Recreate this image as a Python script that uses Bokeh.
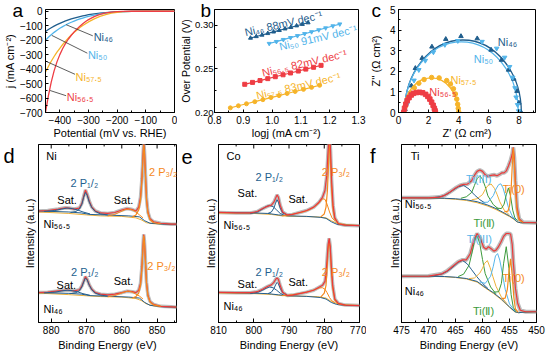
from bokeh.plotting import figure
from bokeh.models import (Range1d, Label, Title, LinearAxis, SingleIntervalTicker, FixedTicker,
                          NumeralTickFormatter)
from bokeh.layouts import row, column
from bokeh.embed import file_html
from bokeh.resources import INLINE

FONT = "Liberation Sans"
C46, C50, C575, C565 = "#1f5d8c", "#52b4ea", "#f6b42a", "#ee3d44"
XB, XO, XY, XG, XL, XR, GRAY = "#245f8f", "#f5891d", "#eeb03a", "#3c9a3c", "#55b5ea", "#ec3a3a", "#bcbcbc"

# ---------------- panel a: LSV ----------------
E = [-450, -440, -430, -420, -410, -400, -390, -380, -370, -360, -350, -340, -330, -320, -310, -300,
     -280, -260, -240, -220, -200, -180, -150, -100, -50, 0]
j46 = [-140, -126, -114, -103, -93, -84, -75, -67, -60, -53, -47, -42, -37, -32, -28, -24,
       -18, -13, -9, -6, -3, -2, -1, 0, 0, 0]
j50 = [-200, -180, -162, -146, -131, -118, -106, -95, -85, -76, -68, -60, -53, -47, -41, -36,
       -27, -19, -13, -8, -5, -2, -1, 0, 0, 0]
j575 = [-420, -382, -346, -313, -283, -256, -230, -207, -185, -164, -146, -129, -113, -99, -86, -74,
        -53, -36, -23, -13, -7, -3, -1, 0, 0, 0]
j565 = [-700, -585, -490, -412, -350, -300, -258, -222, -192, -166, -143, -122, -103, -86, -71, -58,
        -37, -22, -12, -6, -3, -1, 0, 0, 0, 0]
a_lead_x0 = [-378, -428, -445, -434]
a_lead_y0 = [-93, -167, -349, -548]
a_lead_x1 = [-285, -304, -347, -378]
a_lead_y1 = [-170, -290, -436, -584]

# ---------------- panel b: Tafel ----------------
b46_x = [0.925, 0.945, 0.965, 0.985, 1.005, 1.025, 1.045, 1.065, 1.085, 1.105, 1.125]
b46_y = [0.2853, 0.2871, 0.2888, 0.2906, 0.2924, 0.2941, 0.2959, 0.2976, 0.2994, 0.3011, 0.3029]
b50_x = [0.990, 1.015, 1.039, 1.064, 1.088, 1.113, 1.137, 1.162, 1.186, 1.211, 1.235]
b50_y = [0.2790, 0.2812, 0.2835, 0.2857, 0.2879, 0.2902, 0.2924, 0.2946, 0.2968, 0.2991, 0.3013]
b565_x = [0.905, 0.932, 0.958, 0.985, 1.011, 1.038, 1.064, 1.091, 1.117, 1.144, 1.170]
b565_y = [0.2323, 0.2345, 0.2366, 0.2388, 0.2410, 0.2432, 0.2453, 0.2475, 0.2497, 0.2518, 0.2540]
b575_x = [0.855, 0.883, 0.911, 0.940, 0.968, 0.996, 1.024, 1.052, 1.080, 1.109, 1.137, 1.165]
b575_y = [0.2053, 0.2077, 0.2100, 0.2124, 0.2147, 0.2171, 0.2194, 0.2218, 0.2241, 0.2265, 0.2288, 0.2312]

# ---------------- panel c: Nyquist ----------------
c46_x = [0.43, 0.67, 0.86, 1.12, 1.57, 2.22, 3.14, 4.15, 5.23, 6.15, 6.84, 7.31, 7.66, 7.87, 8.0, 8.13]
c46_y = [0.15, 0.74, 1.30, 2.15, 2.64, 3.19, 3.56, 3.70, 3.59, 3.04, 2.55, 2.07, 1.63, 1.04, 0.47, 0.03]
c50_x = [0.39, 0.6, 0.77, 1.03, 1.35, 1.78, 2.32, 3.08, 3.94, 5.55, 6.52, 7.05, 7.38, 7.59, 7.74, 7.81, 7.91, 7.98]
c50_y = [0.07, 0.44, 0.96, 1.56, 2.07, 2.52, 2.93, 3.29, 3.48, 3.44, 3.11, 2.67, 2.22, 1.70, 1.19, 0.74, 0.37, 0.07]
c575_x = [0.35, 0.45, 0.6, 0.8, 1.05, 1.35, 1.7, 2.2, 2.7, 3.2, 3.45, 3.65, 3.78, 3.87, 3.93, 3.97, 4.0]
c575_y = [0.02, 0.3, 0.65, 0.95, 1.2, 1.42, 1.6, 1.7, 1.68, 1.55, 1.38, 1.15, 0.9, 0.65, 0.4, 0.2, 0.02]
c565_x = [0.35, 0.4, 0.48, 0.58, 0.7, 0.85, 1.0, 1.2, 1.4, 1.6, 1.8, 1.95, 2.08, 2.2, 2.3, 2.38, 2.43, 2.45]
c565_y = [0.0, 0.2, 0.4, 0.58, 0.72, 0.85, 0.93, 0.97, 0.98, 0.96, 0.88, 0.78, 0.65, 0.5, 0.35, 0.2, 0.08, 0.0]
fit_cx = [4.28, 4.18, 2.17, 1.40]
fit_w = [7.76, 7.56, 3.64, 2.10]
fit_h = [7.04, 6.86, 3.36, 1.94]
fit_col = [C46, C50, C575, C565]

# ---------------- panel d: Ni 2p ----------------
d_env_x = [883.6, 881, 878, 876, 875, 873.5, 872, 871.3, 870.8, 870.3, 869.8, 869.2, 868.5, 867.5, 866, 864, 862, 860,
           858.5, 857, 856, 855.2, 854.7, 854.3, 854.0, 853.8, 853.6, 853.3, 853.0, 852.6, 852, 851, 849, 846, 844.5]
dt_env_y = [114, 114.5, 116, 117.3, 117, 116, 117, 122, 129, 135.5, 131, 124, 118, 114, 112, 111.5, 112.5, 115,
            116.5, 115.5, 114, 118, 128, 147, 170, 184, 177, 152, 127, 113, 106, 103, 101.5, 100.5, 100.5]
db_env_y = [30.7, 31, 32.3, 33, 33, 32.3, 33.5, 37.5, 42, 47, 44, 38.5, 34, 30.5, 29, 28.3, 29, 30.5,
            32, 31.5, 30.5, 33, 40, 57, 78, 90, 84, 63, 41, 28, 21.5, 18.5, 16.5, 16, 15.7]
d_bgb_x = [883.6, 875, 871.5, 869, 865, 858, 855, 853.5, 852, 848, 844.5]
dt_bgb_y = [114, 113, 112, 110.5, 110, 109, 108, 104, 101.5, 100.5, 100.5]
db_bgb_y = [30.5, 29.8, 29, 27.5, 27, 26, 25, 20.5, 17.5, 16, 15.7]
d_bgo_x = [883.6, 875, 870, 866, 860, 856, 854.5, 853, 851, 844.5]
dt_bgo_y = [113, 111.5, 110, 109, 108.5, 107, 105, 102, 101, 100.5]
db_bgo_y = [30, 28.5, 27.3, 26.5, 26, 24.5, 22.5, 19, 17, 15.7]
d_sat1_x = [882, 879, 877, 875.5, 874, 872.5, 871, 869]
dt_sat1_y = [113.6, 114.5, 116, 117, 116.5, 115, 113, 111]
db_sat1_y = [30.3, 31, 32.3, 33, 32.5, 31.3, 29.5, 27.8]
d_p12_x = [874.5, 873, 872, 871.3, 870.8, 870.3, 869.8, 869.2, 868.5, 867.5, 866, 864]
dt_p12_y = [112.5, 113.5, 116, 121, 128, 133, 130, 123, 117.5, 113.5, 111, 110]
db_p12_y = [29.5, 30.5, 32.5, 36.5, 41.5, 45.5, 43.5, 38, 33.5, 30, 28, 27]
d_sat2_x = [864, 862, 860.5, 859, 858, 857, 856, 855, 854]
dt_sat2_y = [109, 110.5, 113, 115.5, 116, 115, 113, 110, 107]
db_sat2_y = [26.3, 27.5, 29.5, 31.5, 32, 31, 29, 27, 24]
d_p32_x = [857, 856, 855.2, 854.7, 854.3, 854.0, 853.8, 853.6, 853.3, 853.0, 852.6, 852, 851, 849]
dt_p32_y = [108, 110, 115, 125, 145, 168, 182, 175, 150, 125, 112, 105, 102, 101]
db_p32_y = [25, 26.5, 30, 38, 55, 76, 89, 83, 62, 40, 27, 21, 18, 16.5]
d_top_major = [880, 870, 860, 850]
d_top_minor = [875, 865, 855, 845]

# ---------------- panel e: Co 2p ----------------
et_env_x = [810, 805, 801, 799, 797.5, 796, 795, 794.3, 793.8, 793.4, 793, 792.5, 791.8, 790.5, 789, 787, 785, 783,
            781.5, 780.5, 779.8, 779.3, 779, 778.7, 778.5, 778.2, 777.9, 777.5, 777, 776, 774, 770]
et_env_y = [112.5, 112, 112, 113.5, 116.5, 119, 120, 123, 127, 130.5, 128, 120, 113, 110, 110.5, 112.5, 114.5, 118,
            123, 128, 135, 150, 170, 188, 195, 175, 145, 120, 107, 101, 99.5, 99]
eb_env_x = [810, 805, 801, 799, 797.5, 796, 795, 794.3, 793.8, 793.4, 793, 792.5, 791.8, 790.5, 789, 787, 785, 783,
            781.5, 780.5, 779.8, 779.5, 779.2, 778.9, 778.6, 778.3, 778, 777.6, 777, 776, 774, 770]
eb_env_y = [30.7, 30.5, 30.5, 31.5, 34, 37, 38.5, 41, 44, 45.7, 44, 38, 31, 27.5, 28, 29.5, 31, 33,
            36, 38, 42, 50, 65, 80, 86, 78, 58, 38, 24, 19.5, 17.8, 17.3]
e_bgb_x = [810, 800, 796, 793, 790, 785, 781, 779.5, 778, 776.5, 774, 770]
et_bgb_y = [112.5, 112, 111.5, 110, 109, 108.5, 107.5, 106.5, 103, 100.5, 99.5, 99]
eb_bgb_y = [30.7, 30, 29.5, 28.3, 27.3, 26.7, 25.5, 24, 20.5, 18.5, 17.5, 17.3]
e_bgo_x = [810, 800, 795, 792, 788, 782, 779.5, 778, 776, 770]
et_bgo_y = [112, 111.5, 110.5, 109, 108.5, 108, 107, 104, 101, 99]
eb_bgo_y = [30.3, 29.5, 28.7, 27.5, 27, 26.5, 25, 21.5, 18.8, 17.3]
e_c1_x = [801, 799, 797.5, 796.5, 795.5, 794.5, 793.5, 792.5, 791.5]
et_c1_y = [111.5, 113, 116, 118.5, 119.7, 118.5, 115, 111.5, 110]
eb_c1_y = [29.7, 30.8, 33, 35, 36.3, 35.5, 33, 30, 28]
e_c2_x = [796, 795, 794.3, 793.8, 793.4, 793.0, 792.5, 791.8, 790.5]
et_c2_y = [111.5, 113, 117, 122, 125.5, 123, 117, 112, 110]
eb_c2_y = [29.5, 31, 34.5, 38.5, 41, 39.5, 35, 30.5, 28]
e_sh_x = [792, 790, 788, 786, 784, 782.5, 781.3, 780.5, 779.8, 779.2, 778.5, 777.8, 777]
et_sh_y = [109, 110, 111.5, 113, 115.5, 119, 123, 126.5, 126, 121, 113, 107, 104]
eb_sh_y = [27.5, 28, 29, 30.3, 32, 34, 35.5, 35.5, 34, 30.5, 25.5, 22, 20.5]
et_p32_x = [781, 780, 779.5, 779.1, 778.8, 778.5, 778.2, 777.9, 777.5, 777, 776, 774]
et_p32_y = [108, 111, 118, 135, 160, 190, 165, 135, 115, 106, 101, 99.5]
eb_p32_x = [781, 780, 779.5, 779.2, 778.9, 778.6, 778.3, 778.0, 777.6, 777, 776, 774]
eb_p32_y = [26, 30, 38, 55, 75, 84, 75, 55, 35, 23, 19, 17.7]
e_top_major = [810, 800, 790, 780, 770]
e_top_minor = [805, 795, 785, 775]

# ---------------- panel f: Ti 2p ----------------
ft_env_x = [475, 470, 468, 467, 466, 465, 464, 463.5, 462.8, 462, 461.5, 461, 460.5, 460, 459.5, 459, 458.4, 457.8,
            457.3, 456.8, 456.4, 456, 455.6, 455.2, 454.8, 454.5, 454.3, 454.1, 453.9, 453.6, 453.2, 452.5, 450]
ft_env_y = [127.5, 127.5, 128.2, 130, 133.5, 137.5, 140.5, 141.2, 141.5, 145, 150.5, 154.5, 156, 154.5, 151, 149.5,
            150.5, 151, 150, 151.5, 153, 153, 155, 160, 166, 172, 179, 168, 145, 118, 106, 102.5, 102]
fb_env_x = [475, 470, 467.5, 466.5, 465.5, 464.5, 463.7, 463, 462.3, 461.6, 461.0, 460.4, 459.8, 459.3, 458.9, 458.4,
            457.9, 457.5, 457.1, 456.6, 456.1, 455.6, 455.2, 454.8, 454.5, 454.3, 453.9, 453.5, 453.0, 452, 450]
fb_env_y = [47.3, 47.5, 49.8, 53, 57.5, 62, 64, 64, 70, 84, 91, 86, 77, 75, 77.5, 75.5,
            73, 74, 77, 82, 88, 91, 91, 90.5, 80, 62, 35, 20, 12.5, 11, 11]
f_bg_x = [475, 470, 467, 465, 463, 461, 459, 457.5, 456, 455, 454.2, 453.6, 453, 450]
ft_bg1_y = [127.5, 127.3, 127, 126.5, 125.5, 123.5, 120, 116.5, 112, 109, 106, 103, 102, 102]
ft_bg2_y = [127.5, 127.2, 126.7, 126, 124.8, 122.5, 119, 115.5, 111.2, 108.3, 105.5, 102.8, 102, 102]
fb_bg_x = [475, 470, 467, 465, 463, 461, 459.5, 458, 456.5, 455, 454, 453.3, 452.5, 450]
fb_bg1_y = [47.3, 47.3, 47, 46.3, 45, 42, 36, 30.5, 24, 16, 11, 10, 10.5, 11]
fb_bg2_y = [47.3, 47.2, 46.8, 46, 44.5, 41.3, 35.3, 29.8, 23.3, 15.5, 10.8, 10, 10.5, 11]
ft_blue_x = [469, 467.5, 466.5, 465.5, 464.5, 463.5, 462.5, 461.5, 460.5, 459.5]
ft_blue_y = [127.7, 129, 131.4, 135.1, 138.7, 140.2, 136.5, 130.5, 125.6, 122]
ft_grn_x = [464, 463, 462, 461.5, 461, 460.5, 460, 459.5, 459, 458, 457]
ft_grn_y = [127, 128.5, 133, 140, 147, 150, 146.5, 139, 129.5, 120.5, 116]
ft_or_x = [462, 461, 460, 459.5, 459, 458.4, 457.8, 457.3, 456.8, 456, 455]
ft_or_y = [125.5, 126.5, 130.8, 136, 140, 141.6, 137.2, 131, 123.5, 115, 110]
ft_lb_x = [460, 459, 458, 457.5, 457, 456.6, 456.2, 455.7, 455.2, 454.5, 453.8]
ft_lb_y = [122.8, 123, 129.7, 136.5, 141, 141.8, 137.6, 128, 117.6, 109, 104.5]
ft_g2_x = [457.5, 456.5, 456, 455.6, 455.2, 454.8, 454.4, 454, 453.5]
ft_g2_y = [117, 116.5, 121, 130.5, 137.6, 129, 114.8, 107, 104]
ft_o2_x = [456, 455.3, 455, 454.7, 454.5, 454.3, 454.1, 453.9, 453.6, 453.2, 452.5]
ft_o2_y = [113, 113.8, 119, 136, 159.3, 178.5, 160.8, 135, 113.5, 104.3, 102.5]
fb_blue_x = [469, 467.5, 466.5, 465.5, 464.5, 463.7, 462.8, 462, 461, 460, 459]
fb_blue_y = [47.7, 49.6, 52.4, 56.5, 61.5, 63.5, 59.8, 53.9, 46.5, 40, 34.8]
fb_grn_x = [464.5, 463.5, 462.5, 462, 461.5, 461, 460.5, 460, 459.5, 458.5, 457.5]
fb_grn_y = [47, 49.4, 58.4, 69.9, 83, 89, 80.5, 64.5, 50, 36.3, 29.3]
fb_or_x = [462.5, 461.5, 460.5, 460, 459.6, 459.1, 458.6, 458.1, 457.5, 456.5, 455.5]
fb_or_y = [44.9, 45.5, 50.5, 55.5, 60.5, 63.3, 56.3, 47.3, 37, 26, 19.5]
fb_lb_x = [460.5, 459.5, 458.5, 458, 457.6, 457.2, 456.8, 456.3, 455.8, 455, 454]
fb_lb_y = [41.5, 40, 47.3, 57.5, 68, 70.5, 63.8, 49.5, 34, 19, 11.5]
fb_g2_x = [458, 457, 456.5, 456.1, 455.6, 455.1, 454.7, 454.3, 453.8]
fb_g2_y = [31, 31.5, 40, 60, 77.5, 55, 28.5, 15.5, 11]
fb_o2_x = [456.5, 455.8, 455.4, 455.1, 454.8, 454.5, 454.2, 453.9, 453.4]
fb_o2_y = [24.5, 25, 33.8, 52, 65, 48.5, 26, 13.8, 10.5]
f_top_major = [475, 470, 465, 460, 455, 450]
f_top_minor = [472.5, 467.5, 462.5, 457.5, 452.5]


def mk(w, h, xr, yr, bl, br, bt, bb):
    p = figure(width=w, height=h, x_range=Range1d(*xr), y_range=Range1d(*yr),
               output_backend="svg", toolbar_location=None,
               min_border_left=bl, min_border_right=br, min_border_top=bt, min_border_bottom=bb)
    p.grid.visible = False
    p.outline_line_color = "black"
    p.outline_line_alpha = 1
    p.outline_line_width = 1
    p.background_fill_color = "white"
    p.border_fill_color = "white"
    for ax in p.axis:
        ax.major_tick_in = 3
        ax.major_tick_out = 0
        ax.minor_tick_in = 2
        ax.minor_tick_out = 0
        ax.major_label_text_font = FONT
        ax.major_label_text_font_size = "10px"
        ax.major_label_text_color = "black"
        ax.axis_label_text_font = FONT
        ax.axis_label_text_font_size = "11px"
        ax.axis_label_text_font_style = "normal"
        ax.axis_label_text_color = "black"
        ax.major_label_standoff = 3
        ax.axis_label_standoff = 2
        ax.axis_line_color = "black"
        ax.major_tick_line_color = "black"
        ax.minor_tick_line_color = "black"
    return p


def lab(p, x, y, s, color="black", size="11px", align="left", base="middle", angle=0, units="data"):
    p.add_layout(Label(x=x, y=y, text=s, text_color=color, text_font=FONT, text_font_size=size,
                       text_align=align, text_baseline=base, angle=angle, angle_units="deg",
                       x_units=units, y_units=units))


def top_letter(p, s, offset):
    # panel letter drawn in the top border, pulled down beside the frame's top-left corner
    p.add_layout(Title(text=s, align="left", offset=offset, standoff=-23, vertical_align="bottom",
                       text_font=FONT, text_font_size="19px", text_font_style="normal",
                       text_color="black"), "above")


def side_letter(p, s, yv, standoff):
    # panel letter drawn in the left border, as the only label of a bare axis
    ax = LinearAxis(ticker=FixedTicker(ticks=[yv]), major_label_overrides={yv: s},
                    major_label_text_font=FONT, major_label_text_font_size="20px",
                    major_label_text_color="black", major_label_standoff=standoff,
                    major_tick_line_color=None, minor_tick_line_color=None, axis_line_color=None)
    p.add_layout(ax, "left")


TOPB = 9

# ---------- a ----------
pa = mk(177, 141, (-450, 0), (-700, 12), 37, 3, TOPB, 27)
pa.xaxis.ticker = SingleIntervalTicker(interval=100, num_minor_ticks=2)
pa.yaxis.ticker = SingleIntervalTicker(interval=100, num_minor_ticks=2)
pa.xaxis.axis_label = "Potential (mV vs. RHE)"
pa.yaxis.axis_label = "j (mA cm⁻²)"
pa.yaxis.axis_label_standoff = 1
pa.xaxis.axis_label_standoff = 0
for jj, cc in [(j46, C46), (j50, C50), (j575, C575), (j565, C565)]:
    pa.line(E, jj, line_color=cc, line_width=1.3)
pa.segment(x0=a_lead_x0, y0=a_lead_y0, x1=a_lead_x1, y1=a_lead_y1, line_color="#333333", line_width=0.8)
lab(pa, -282, -175, "Ni₄₆", C46)
lab(pa, -302, -305, "Ni₅₀", C50)
lab(pa, -345, -452, "Ni₅₇.₅", C575)
lab(pa, -376, -596, "Ni₅₆.₅", C565)
top_letter(pa, "a", -33)

# ---------- b ----------
pb = mk(189, 141, (0.8, 1.3), (0.2, 0.318), 30, 8, TOPB, 27)
pb.xaxis.ticker = SingleIntervalTicker(interval=0.1, num_minor_ticks=2)
pb.yaxis.ticker = SingleIntervalTicker(interval=0.05, num_minor_ticks=2)
pb.xaxis.formatter = NumeralTickFormatter(format="0.0")
pb.yaxis.formatter = NumeralTickFormatter(format="0.00")
pb.xaxis.axis_label = "logj (mA cm⁻²)"
pb.xaxis.axis_label_standoff = 0
pb.yaxis.axis_label = "Over Potential (V)"
pb.yaxis.axis_label_standoff = 0
pb.yaxis.major_label_standoff = 1
pb.yaxis.major_label_text_font_size = "9.5px"
pb.yaxis.axis_label_text_font_size = "10.5px"
for xx, yy, cc, mm in [(b46_x, b46_y, C46, "triangle"), (b50_x, b50_y, C50, "inverted_triangle"),
                       (b565_x, b565_y, C565, "square"), (b575_x, b575_y, C575, "circle")]:
    pb.line(xx, yy, line_color=cc, line_width=1.2)
    pb.scatter(xx, yy, marker=mm, size=4, fill_color=cc, line_color=cc)
lab(pb, 0.905, 0.2917, "Ni₄₆ 88mV dec⁻¹", C46, base="alphabetic", angle=13)
lab(pb, 1.025, 0.2755, "Ni₅₀ 91mV dec⁻¹", C50, base="alphabetic", angle=13)
lab(pb, 0.965, 0.2455, "Ni₅₆.₅ 82mV dec⁻¹", C565, base="alphabetic", angle=13)
lab(pb, 0.945, 0.2193, "Ni₅₇.₅ 83mV dec⁻¹", C575, base="alphabetic", angle=13)
top_letter(pb, "b", -14)

# ---------- c ----------
pc = mk(180, 141, (0, 9.1), (0, 5), 29, 11, TOPB, 27)
pc.xaxis.ticker = SingleIntervalTicker(interval=2, num_minor_ticks=2)
pc.yaxis.ticker = SingleIntervalTicker(interval=1, num_minor_ticks=2)
pc.xaxis.axis_label = "Z' (Ω cm²)"
pc.yaxis.axis_label = "Z'' (Ω cm²)"
pc.xaxis.axis_label_standoff = 0
pc.yaxis.axis_label_standoff = 5
pc.ellipse(x=fit_cx, y=[0, 0, 0, 0], width=fit_w, height=fit_h, fill_alpha=0, line_color=fit_col, line_width=1.3)
for xx, yy, cc, mm in [(c46_x, c46_y, C46, "triangle"), (c50_x, c50_y, C50, "inverted_triangle"),
                       (c575_x, c575_y, C575, "circle"), (c565_x, c565_y, C565, "square")]:
    pc.scatter(xx, yy, marker=mm, size=4.5, fill_color=cc, line_color=cc)
lab(pc, 6.6, 3.4, "Ni₄₆", C46)
lab(pc, 5.0, 2.6, "Ni₅₀", C50)
lab(pc, 3.45, 1.6, "Ni₅₇.₅", C575)
lab(pc, 2.05, 1.0, "Ni₅₆.₅", C565)
top_letter(pc, "c", -27)


def xps(w, xr, bl, br, step, axis_std, top_major, top_minor):
    p = mk(w, 212, xr, (0, 182), bl, br, 3, 31)
    p.xaxis.ticker = SingleIntervalTicker(interval=step, num_minor_ticks=2)
    p.yaxis.ticker = FixedTicker(ticks=[])
    p.xaxis.major_tick_in = 4
    p.xaxis.axis_label = "Binding Energy (eV)"
    p.yaxis.axis_label = "Intensity (a.u.)"
    p.yaxis.axis_label_standoff = axis_std
    # tick marks along the top edge of the box
    p.segment(x0=top_major, y0=[182] * len(top_major), x1=top_major, y1=[177.9] * len(top_major),
              line_color="black", line_width=1)
    p.segment(x0=top_minor, y0=[182] * len(top_minor), x1=top_minor, y1=[180] * len(top_minor),
              line_color="black", line_width=1)
    return p


def ln(p, x, y, c, w=1.0):
    p.line(x, y, line_color=c, line_width=w)


# ---------- d ----------
pd_ = xps(177, (883.6, 844.5), 37, 1, 10, 3, d_top_major, d_top_minor)
for ey in (dt_env_y, db_env_y):
    ln(pd_, d_env_x, ey, GRAY, 3.5)
for bgo, bgb, s1, p12, s2, p32, ey in [(dt_bgo_y, dt_bgb_y, dt_sat1_y, dt_p12_y, dt_sat2_y, dt_p32_y, dt_env_y),
                                        (db_bgo_y, db_bgb_y, db_sat1_y, db_p12_y, db_sat2_y, db_p32_y, db_env_y)]:
    ln(pd_, d_bgo_x, bgo, XY)
    ln(pd_, d_bgb_x, bgb, XB)
    ln(pd_, d_env_x, ey, XR, 1.2)
    ln(pd_, d_sat1_x, s1, XB)
    ln(pd_, d_p12_x, p12, XB)
    ln(pd_, d_sat2_x, s2, XO)
    ln(pd_, d_p32_x, p32, XO, 1.2)
lab(pd_, 881.4, 170, "Ni")
lab(pd_, 870.6, 143, "2 P₁/₂", XB, align="center")
lab(pd_, 875.5, 125, "Sat.", align="center")
lab(pd_, 859.5, 125, "Sat.", align="center")
lab(pd_, 852.3, 154, "2 P₃/₂", XO)
lab(pd_, 882.2, 101, "Ni₅₆.₅")
lab(pd_, 870.5, 52, "2 P₁/₂", XB, align="center")
lab(pd_, 875.7, 38, "Sat.", align="center")
lab(pd_, 859.5, 42, "Sat.", align="center")
lab(pd_, 852.8, 58, "2 P₃/₂", XO)
lab(pd_, 882.2, 14, "Ni₄₆")
side_letter(pd_, "d", 170, 0)

# ---------- e ----------
pe = xps(189, (810, 770), 41, 7, 10, 2, e_top_major, e_top_minor)
ln(pe, et_env_x, et_env_y, GRAY, 3.5)
ln(pe, eb_env_x, eb_env_y, GRAY, 3.5)
for bgo, bgb, c1, c2, sh, px, py, ex, ey in [
        (et_bgo_y, et_bgb_y, et_c1_y, et_c2_y, et_sh_y, et_p32_x, et_p32_y, et_env_x, et_env_y),
        (eb_bgo_y, eb_bgb_y, eb_c1_y, eb_c2_y, eb_sh_y, eb_p32_x, eb_p32_y, eb_env_x, eb_env_y)]:
    ln(pe, e_bgo_x, bgo, XY)
    ln(pe, e_bgb_x, bgb, XB)
    ln(pe, e_c1_x, c1, XB)
    ln(pe, e_c2_x, c2, XB)
    ln(pe, e_sh_x, sh, XO)
    ln(pe, px, py, XO, 1.2)
    ln(pe, ex, ey, XR, 1.2)
lab(pe, 807.7, 170, "Co")
lab(pe, 795.6, 149, "2 P₁/₂", XB, align="center")
lab(pe, 801.8, 132, "Sat.", align="center")
lab(pe, 787.4, 126, "Sat.", align="center")
lab(pe, 780.7, 154, "2 P₃/₂", XO)
lab(pe, 808.6, 100, "Ni₅₆.₅")
lab(pe, 795.6, 52, "2 P₁/₂", XB, align="center")
lab(pe, 801.8, 39, "Sat.", align="center")
lab(pe, 787.4, 41, "Sat.", align="center")
lab(pe, 780.7, 52, "2 P₃/₂", XO)
lab(pe, 808.6, 17, "Ni₄₆")
side_letter(pe, "e", 169, 3)

# ---------- f ----------
pf = xps(180, (475, 450), 30, 10, 5, 1, f_top_major, f_top_minor)
ln(pf, ft_env_x, ft_env_y, GRAY, 4)
ln(pf, fb_env_x, fb_env_y, GRAY, 4)
for bx, b1, b2, bl_x, bl_y, g_x, g_y, o_x, o_y, l_x, l_y, g2x, g2y, o2x, o2y, ex, ey in [
        (f_bg_x, ft_bg1_y, ft_bg2_y, ft_blue_x, ft_blue_y, ft_grn_x, ft_grn_y, ft_or_x, ft_or_y,
         ft_lb_x, ft_lb_y, ft_g2_x, ft_g2_y, ft_o2_x, ft_o2_y, ft_env_x, ft_env_y),
        (fb_bg_x, fb_bg1_y, fb_bg2_y, fb_blue_x, fb_blue_y, fb_grn_x, fb_grn_y, fb_or_x, fb_or_y,
         fb_lb_x, fb_lb_y, fb_g2_x, fb_g2_y, fb_o2_x, fb_o2_y, fb_env_x, fb_env_y)]:
    ln(pf, bx, b2, XY)
    ln(pf, bx, b1, XB)
    ln(pf, bl_x, bl_y, XB)
    ln(pf, g_x, g_y, XG)
    ln(pf, o_x, o_y, XY)
    ln(pf, l_x, l_y, XL)
    ln(pf, g2x, g2y, XG)
    ln(pf, ex, ey, XR, 1.2)
    ln(pf, o2x, o2y, XO, 1.2)
lab(pf, 473.3, 170, "Ti")
lab(pf, 460.7, 147, "Ti(III)", XL, align="center")
lab(pf, 456.3, 136, "Ti(0)", XO)
lab(pf, 459.7, 102, "Ti(Ⅱ)", XG, align="center")
lab(pf, 474.4, 121, "Ni₅₆.₅")
lab(pf, 460.6, 85, "Ti(III)", XL, align="center")
lab(pf, 456.3, 46, "Ti(0)", XO)
lab(pf, 459.8, 12, "Ti(Ⅱ)", XG, align="center")
lab(pf, 474.4, 32, "Ni₄₆")
side_letter(pf, "f", 170, 4)

layout = column(row(pa, pb, pc), row(pd_, pe, pf))
open("out.html", "w").write(file_html(layout, INLINE))
